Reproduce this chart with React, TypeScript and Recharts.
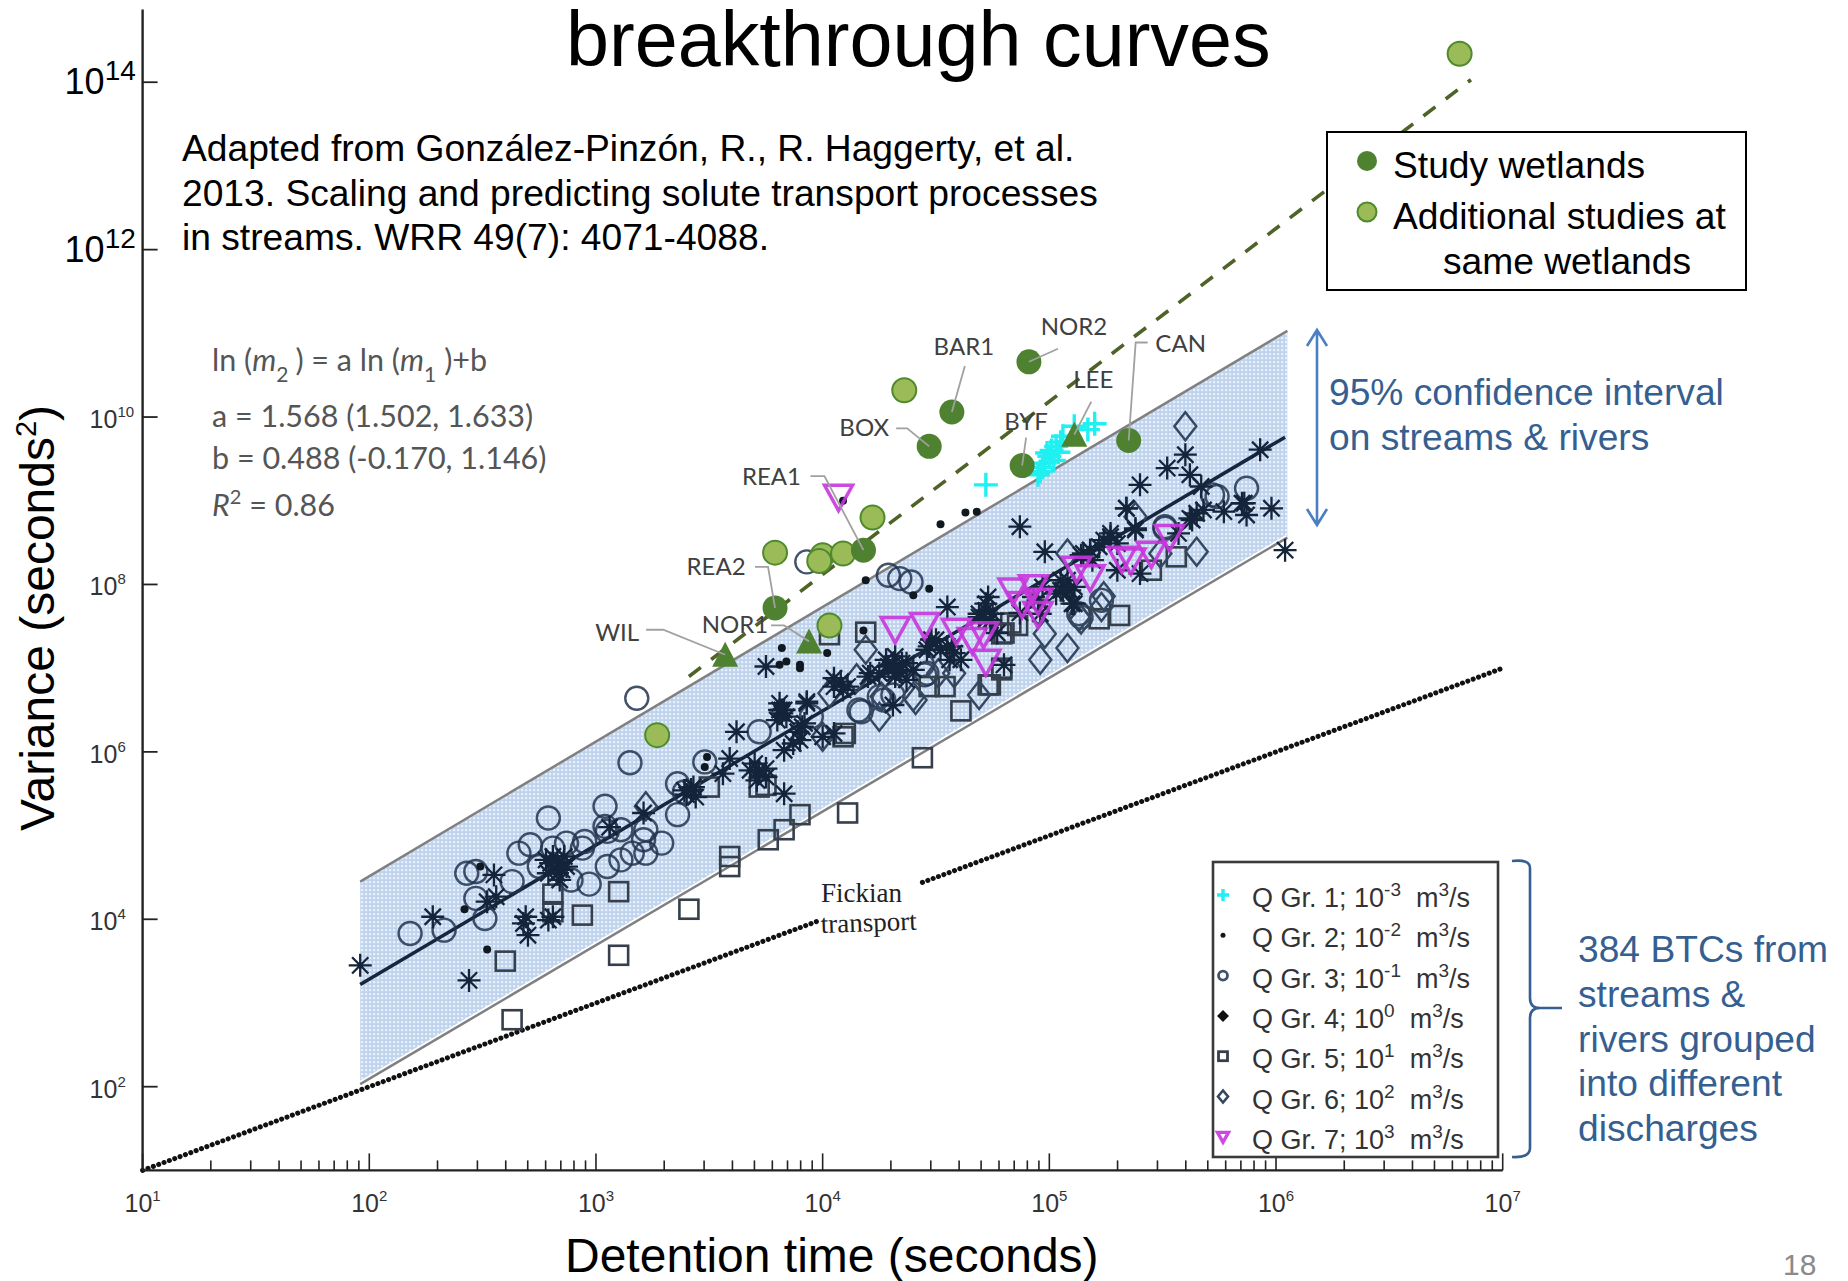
import React from "react";
import { ComposedChart, Area, Line, Scatter, XAxis, YAxis } from "recharts";

// All series values are log10 of the plotted quantity.
type Pt = [number, number];

const X_DECADES = [1, 2, 3, 4, 5, 6, 7];
const Y_DECADES = [2, 4, 6, 8, 10, 12, 14];
const MINOR_STEPS = [0.301, 0.477, 0.602, 0.699, 0.778, 0.845, 0.903, 0.954];

const BAND_X = [1.96, 6.05];
const BAND_LOW = [2.03, 8.56];
const BAND_HIGH = [4.45, 11.03];
const FIT_LINE: Pt[] = [[1.96, 3.22], [6.04, 9.76]];
const WETLAND_TREND: Pt[] = [[3.41, 6.9], [6.86, 14.03]];
const FICKIAN_LOW: Pt[] = [[1, 1], [3.98, 3.98]];
const FICKIAN_HIGH: Pt[] = [[4.44, 4.44], [7, 7]];

const Q1_PLUS: Pt[] = [
  [4.72, 9.19], [4.95, 9.31], [4.96, 9.35], [4.98, 9.45], [4.99, 9.57], [5.0, 9.53], [5.03, 9.65],
  [5.05, 9.7], [5.06, 9.77], [5.11, 9.89], [5.17, 9.85], [5.2, 9.92], [4.97, 9.4], [5.01, 9.6],
  [5.02, 9.48], [5.04, 9.58],
];
const Q2_DOTS: Pt[] = [
  [4.09, 9.0], [4.52, 8.72], [4.63, 8.86], [4.68, 8.87], [4.19, 8.05], [4.47, 7.95], [4.4, 7.87],
  [3.82, 7.24], [4.02, 7.18], [3.9, 7.04], [3.9, 7.0], [3.81, 7.04], [3.84, 7.08], [4.18, 7.45],
  [2.52, 3.64], [2.42, 4.12], [2.49, 4.63], [3.48, 5.82], [3.49, 5.94],
];
const Q3_CIRCLES: Pt[] = [
  [3.18, 6.64], [3.15, 5.87], [2.79, 5.21], [3.04, 5.35], [2.18, 3.83], [2.33, 3.87], [2.47, 4.57],
  [2.43, 4.55], [2.47, 4.25], [2.51, 4.01], [2.63, 4.45], [2.66, 4.79], [2.71, 4.89], [2.81, 4.85],
  [2.87, 4.91], [2.95, 4.93], [3.04, 5.11], [3.11, 5.07], [3.05, 5.05], [2.97, 4.42], [3.05, 4.63],
  [3.11, 4.71], [3.22, 5.07], [3.29, 4.91], [3.22, 4.79], [3.21, 4.95], [3.36, 5.25], [3.36, 5.62],
  [3.39, 5.52], [3.48, 5.88], [3.72, 6.24], [2.89, 4.47], [2.75, 4.63], [2.94, 4.85], [3.16, 4.79],
  [3.93, 8.27], [4.29, 8.11], [4.34, 8.07], [4.39, 8.03], [5.87, 9.15], [5.72, 9.07], [5.51, 8.67],
  [4.16, 6.5], [4.25, 6.66], [3.95, 6.42], [4.46, 6.94], [5.13, 7.65], [5.23, 7.81], [4.17, 6.48],
  [4.44, 7.04], [4.45, 6.92], [4.31, 6.68], [4.27, 6.62], [5.51, 8.69], [5.14, 7.61], [5.74, 9.05],
];
const Q4_STARS: Pt[] = [
  [1.96, 3.45], [2.28, 4.03], [2.44, 3.27], [2.69, 4.03], [2.7, 3.81], [2.68, 3.95], [2.79, 3.99],
  [2.81, 4.03], [2.55, 4.53], [2.56, 4.27], [2.52, 4.21], [2.83, 4.67], [2.81, 4.75], [2.85, 4.59],
  [2.78, 4.71], [2.84, 4.47], [3.06, 5.1], [3.21, 5.27], [3.42, 5.55], [3.4, 5.49], [3.59, 5.92],
  [3.62, 6.24], [3.56, 5.74], [3.7, 5.86], [3.72, 5.78], [3.75, 5.7], [3.83, 5.5], [3.75, 7.02],
  [3.82, 6.46], [3.81, 6.58], [3.83, 6.02], [3.89, 6.24], [3.82, 6.5], [3.93, 6.6], [3.91, 6.3],
  [4.08, 6.84], [4.05, 6.78], [4.09, 6.74], [4.2, 6.9], [4.32, 7.14], [4.29, 7.02], [4.35, 7.06],
  [4.32, 6.94], [4.37, 6.86], [4.48, 7.34], [4.46, 7.22], [4.52, 7.22], [4.55, 7.73], [4.57, 7.26],
  [4.56, 7.1], [4.73, 7.85], [4.72, 7.69], [4.69, 7.61], [4.74, 7.57], [4.95, 7.81], [4.96, 7.65],
  [5.05, 8.05], [5.06, 7.93], [5.03, 7.89], [5.1, 7.77], [5.11, 7.97], [5.15, 8.37], [5.18, 8.41],
  [5.27, 8.61], [5.24, 8.53], [5.3, 8.49], [4.87, 8.69], [4.98, 8.39], [5.34, 8.91], [5.4, 9.19],
  [5.38, 8.67], [5.52, 9.39], [5.6, 9.55], [5.62, 9.31], [5.67, 9.17], [5.65, 8.85], [5.63, 8.77],
  [5.77, 8.87], [5.85, 8.97], [5.87, 8.83], [5.98, 8.91], [5.93, 9.61], [6.04, 8.41], [5.57, 8.61],
  [4.05, 6.88], [4.11, 6.78], [4.31, 7.04], [4.28, 7.1], [4.34, 6.96], [4.37, 7.06], [4.32, 6.9],
  [4.25, 6.94], [4.4, 6.98], [4.5, 7.34], [4.47, 7.26], [4.58, 7.18], [4.55, 7.26], [4.61, 7.1],
  [4.72, 7.77], [4.69, 7.65], [4.75, 7.65], [4.72, 7.58], [4.77, 7.42], [3.93, 6.58], [3.92, 6.34],
  [3.87, 6.1], [4.0, 6.18], [3.83, 6.5], [4.05, 6.22], [4.31, 6.56], [4.21, 6.94], [4.8, 7.04],
  [5.18, 8.41], [5.14, 8.35], [5.22, 8.45], [5.27, 8.57], [5.19, 8.29], [5.08, 8.05], [5.05, 7.93],
  [4.97, 7.97], [4.93, 7.85], [4.87, 7.66], [5.11, 7.77], [5.09, 7.93], [5.3, 8.17], [5.4, 8.13],
  [5.34, 8.91], [5.38, 8.65], [5.62, 8.79], [5.68, 8.89], [5.86, 8.97], [2.8, 4.67], [2.86, 4.75],
  [2.83, 4.55], [2.87, 4.63], [2.79, 4.55], [3.68, 5.78], [3.75, 5.8], [3.71, 5.66], [3.43, 5.58],
  [3.39, 5.54], [3.44, 5.46], [3.81, 6.5], [3.84, 6.42], [3.8, 6.38], [3.9, 6.14],
];
const Q5_SQUARES: Pt[] = [
  [2.63, 2.8], [3.1, 3.57], [3.41, 4.12], [2.6, 3.5], [2.94, 4.05], [3.1, 4.33], [2.81, 4.3],
  [2.81, 4.09], [3.59, 4.63], [3.59, 4.75], [3.76, 4.95], [3.83, 5.07], [3.9, 5.25], [3.5, 5.58],
  [3.72, 5.58], [3.75, 5.6], [4.44, 5.93], [4.11, 5.27], [4.61, 6.49], [5.31, 7.63], [4.19, 7.43],
  [4.03, 7.4], [4.86, 7.51], [5.22, 7.59], [5.45, 8.17], [5.56, 8.33], [4.54, 6.78], [4.47, 6.78],
  [4.79, 7.0], [4.73, 6.8], [4.1, 6.22], [4.79, 7.41], [4.09, 6.18], [4.74, 6.8], [4.83, 7.54],
  [4.8, 7.42], [4.79, 6.98],
];
const Q6_DIAMONDS: Pt[] = [
  [5.6, 9.89], [5.65, 8.39], [5.08, 8.37], [4.98, 7.41], [5.08, 7.24], [4.96, 7.1], [4.69, 6.68],
  [5.23, 7.73], [5.13, 7.61], [4.95, 7.69], [4.19, 7.22], [4.25, 6.42], [4.4, 6.66], [4.51, 6.94],
  [5.49, 8.37], [3.22, 5.35], [5.38, 8.81], [4.41, 6.62], [4.0, 6.18], [4.58, 6.94], [4.26, 6.66],
  [4.15, 6.88], [4.03, 6.7], [5.14, 7.58], [5.24, 7.86],
];
const Q7_TRIANGLES: Pt[] = [
  [4.07, 9.05], [4.32, 7.47], [4.45, 7.52], [4.59, 7.45], [4.71, 7.41], [4.66, 7.34], [4.72, 7.08],
  [4.84, 7.93], [4.93, 7.97], [4.88, 7.77], [4.95, 7.81], [4.95, 7.65], [5.12, 8.19], [5.18, 8.09],
  [5.32, 8.31], [5.36, 8.29], [5.45, 8.37], [5.53, 8.57],
];

const ADDITIONAL_STUDIES: Pt[] = [
  [6.81, 14.34], [4.36, 10.32], [4.22, 8.8], [3.79, 8.38], [4.0, 8.35], [3.985, 8.28], [4.09, 8.37],
  [4.03, 7.51], [3.27, 6.2],
];
const CIRCLE_SITES = ["BAR1", "NOR2", "BOX", "BYF", "CAN", "REA1", "REA2"];
const CIRCLE_SITE_X = [4.57, 4.91, 4.47, 4.88, 5.35, 4.18, 3.79];
const CIRCLE_SITE_Y = [10.06, 10.66, 9.65, 9.42, 9.72, 8.41, 7.72];
const TRIANGLE_SITES = ["LEE", "NOR1", "WIL"];
const TRIANGLE_SITE_X = [5.11, 3.94, 3.57];
const TRIANGLE_SITE_Y = [9.79, 7.32, 7.16];

const LEGEND_ROWS = ["1; 10|-3", "2; 10|-2", "3; 10|-1", "4; 10|0", "5; 10|1", "6; 10|2", "7; 10|3"];
const RIVER_NOTE = ["384 BTCs from", "streams &", "rivers grouped", "into different", "discharges"];
const CITATION = [
  "Adapted from González-Pinzón, R., R. Haggerty, et al.",
  "2013. Scaling and predicting solute transport processes",
  "in streams. WRR 49(7): 4071-4088.",
];

// where each site's name and leader sit relative to its marker
const SITE_LABELS: Record<string, { dx: number; dy: number; leader: Pt[] }> = {
  BAR1: { dx: 12, dy: -65, leader: [[13, -46]] },
  NOR2: { dx: 45, dy: -35, leader: [[29, -13]] },
  BOX: { dx: -65, dy: -18, leader: [[-33, -18], [-22, -18]] },
  BYF: { dx: 4, dy: -44, leader: [[4, -28]] },
  CAN: { dx: 52, dy: -96, leader: [[19, -98], [7, -98]] },
  REA1: { dx: -92, dy: -73, leader: [[-53, -74], [-39, -74]] },
  REA2: { dx: -59, dy: -41, leader: [[-20, -41], [-7, -41]] },
  LEE: { dx: 19, dy: -55, leader: [[17, -33]] },
  NOR1: { dx: -74, dy: -16, leader: [[-38, -16], [-25, -16]] },
  WIL: { dx: -108, dy: -22, leader: [[-79, -25], [-62, -25]] },
};

const NAVY = "#22344d";
const DARK_GREEN = "#4e8130";
const LIGHT_GREEN = "#9bbb59";
const NOTE_BLUE = "#365f91";
const SANS = "'Liberation Sans', Arial, sans-serif";
const CALIBRI_LIKE = "Lato, 'Noto Sans', sans-serif";

const rows = (pts: Pt[]) => pts.map(([x, y]) => ({ x, y }));
const siteRows = (names: string[], xs: number[], ys: number[]) =>
  names.map((name, i) => ({ name, x: xs[i], y: ys[i] }));
const bandRows = BAND_X.map((x, i) => ({ x, range: [BAND_LOW[i], BAND_HIGH[i]] }));

const xTicks = X_DECADES.flatMap((d) => (d < 7 ? [d, ...MINOR_STEPS.map((s) => d + s)] : [d]));

// ── markers ──────────────────────────────────────────────
function CircleMark({ cx, cy, r = 11.5, w = 2.4 }: any) {
  return <circle cx={cx} cy={cy} r={r} fill="none" stroke={NAVY} strokeWidth={w} strokeOpacity={0.85} />;
}
function DotMark({ cx, cy, r = 4 }: any) {
  return <circle cx={cx} cy={cy} r={r} fill="#101820" />;
}
function StarMark({ cx, cy, r = 11.5 }: any) {
  const d = r * 0.707;
  return (
    <path
      d={`M${cx - r} ${cy}H${cx + r}M${cx} ${cy - r}V${cy + r}M${cx - d} ${cy - d}L${cx + d} ${cy + d}M${cx - d} ${cy + d}L${cx + d} ${cy - d}`}
      stroke="#14243a"
      strokeWidth={2.3}
      fill="none"
    />
  );
}
function SquareMark({ cx, cy, s = 9.5, w = 2.6 }: any) {
  return <rect x={cx - s} y={cy - s} width={s * 2} height={s * 2} fill="none" stroke="#363f4c" strokeWidth={w} />;
}
function DiamondMark({ cx, cy, a = 11, b = 14, w = 2.4 }: any) {
  return (
    <path d={`M${cx} ${cy - b}L${cx + a} ${cy}L${cx} ${cy + b}L${cx - a} ${cy}Z`} fill="none" stroke="#34475f" strokeWidth={w} />
  );
}
function DownTriangleMark({ cx, cy, a = 14, w = 3.5 }: any) {
  return (
    <path
      d={`M${cx - a} ${cy - a * 0.8}H${cx + a}L${cx} ${cy + a}Z`}
      fill="none"
      stroke="#c636dc"
      strokeWidth={w}
      strokeOpacity={0.9}
    />
  );
}
function PlusMark({ cx, cy, r = 12 }: any) {
  return <path d={`M${cx - r} ${cy}H${cx + r}M${cx} ${cy - r}V${cy + r}`} stroke="#1ff0f2" strokeWidth={3.4} fill="none" />;
}

function SiteLabel({ cx, cy, name }: any) {
  const label = SITE_LABELS[name];
  if (!label) return null;
  const path = [...label.leader, [0, 0]].map(([x, y], i) => `${i ? "L" : "M"}${cx + x} ${cy + y}`).join("");
  return (
    <g>
      <path d={path} fill="none" stroke="#a0a0a0" strokeWidth={1.8} />
      <text x={cx + label.dx} y={cy + label.dy + 8} textAnchor="middle" fontFamily={CALIBRI_LIKE} fontSize={24} fill="#404040">
        {name}
      </text>
    </g>
  );
}
function CircleSite(props: any) {
  const name = props.payload?.name ?? props.name;
  return (
    <g>
      <circle cx={props.cx} cy={props.cy} r={12.5} fill={DARK_GREEN} />
      <SiteLabel cx={props.cx} cy={props.cy} name={name} />
    </g>
  );
}
function TriangleSite(props: any) {
  const { cx, cy } = props;
  const name = props.payload?.name ?? props.name;
  return (
    <g>
      <path d={`M${cx} ${cy - 13}L${cx + 13} ${cy + 12}H${cx - 13}Z`} fill={DARK_GREEN} />
      <SiteLabel cx={cx} cy={cy} name={name} />
    </g>
  );
}
function LightSite({ cx, cy }: any) {
  return <circle cx={cx} cy={cy} r={12} fill={LIGHT_GREEN} stroke="#4f8a2b" strokeWidth={2} />;
}

// ── axis ticks ───────────────────────────────────────────
function XTick({ x, y, payload }: any) {
  const major = Number.isInteger(payload.value);
  return (
    <g>
      <line x1={x} x2={x} y1={y} y2={y - (major ? 17 : 10)} stroke="#222" strokeWidth={1.6} />
      {major && (
        <text x={x} y={y + 42} textAnchor="middle" fontFamily={SANS} fontSize={25} fill="#333">
          10
          <tspan dy={-11} fontSize={15}>
            {payload.value}
          </tspan>
        </text>
      )}
    </g>
  );
}
function YTick({ x, y, payload }: any) {
  const big = payload.value >= 12;
  return (
    <g>
      <line x1={x} x2={x + 15} y1={y} y2={y} stroke="#222" strokeWidth={1.8} />
      <text x={x - (big ? 78 : 53)} y={y + (big ? 12 : 11)} fontFamily={SANS} fontSize={big ? 36 : 25} fill={big ? "#000" : "#333"}>
        10
        <tspan dy={big ? -14 : -11} fontSize={big ? 28 : 15}>
          {payload.value}
        </tspan>
      </text>
    </g>
  );
}

const LEGEND_SYMBOLS = [
  (cy: number) => <PlusMark cx={1223} cy={cy} r={6} />,
  (cy: number) => <DotMark cx={1223} cy={cy} r={2.5} />,
  (cy: number) => <CircleMark cx={1223} cy={cy} r={4.5} w={2.8} />,
  (cy: number) => <path d={`M1223 ${cy - 6}L1229 ${cy}L1223 ${cy + 6}L1217 ${cy}Z`} fill="#111" />,
  (cy: number) => <SquareMark cx={1223} cy={cy} s={4.5} w={2.8} />,
  (cy: number) => <DiamondMark cx={1223} cy={cy} a={5} b={6} w={2.6} />,
  (cy: number) => <DownTriangleMark cx={1223} cy={cy} a={5.5} w={3.4} />,
];

// ── everything that sits over the plot ───────────────────
function Overlay() {
  return (
    <svg width={1848} height={1281} style={{ position: "absolute", left: 0, top: 0 }} fontFamily={SANS}>
      <text x={566} y={66} fontSize={77.3} fill="#000">
        breakthrough curves
      </text>
      {CITATION.map((line, i) => (
        <text key={line} x={182} y={161 + i * 44.5} fontSize={37.2} fill="#000">
          {line}
        </text>
      ))}

      <g fontFamily={CALIBRI_LIKE} fontSize={30.5} fill="#555">
        <text x={212} y={371}>
          ln (<tspan fontStyle="italic">m</tspan>
          <tspan dy={11} fontSize={21}>2</tspan>
          <tspan dy={-11} dx={7}>) = a ln (</tspan>
          <tspan fontStyle="italic">m</tspan>
          <tspan dy={11} fontSize={21}>1</tspan>
          <tspan dy={-11} dx={8}>)+b</tspan>
        </text>
        <text x={212} y={427}>a = 1.568 (1.502, 1.633)</text>
        <text x={212} y={469}>b = 0.488 (-0.170, 1.146)</text>
        <text x={212} y={516}>
          <tspan fontStyle="italic">R</tspan>
          <tspan dy={-12} fontSize={20}>2</tspan>
          <tspan dy={12}> = 0.86</tspan>
        </text>
      </g>

      <text transform="translate(54 831) rotate(-90)" fontSize={48} fill="#000">
        Variance (seconds
        <tspan dy={-18} fontSize={29}>2</tspan>
        <tspan dy={18}>)</tspan>
      </text>
      <text x={565} y={1272} fontSize={48} fill="#000">
        Detention time (seconds)
      </text>

      <g fontFamily="'Liberation Serif', serif" fontSize={27} fill="#222">
        <text x={821} y={902}>Fickian</text>
        <text x={821} y={933} transform="rotate(-2 821 933)">transport</text>
      </g>

      {/* wetland key */}
      <rect x={1327} y={132} width={419} height={158} fill="#fff" stroke="#000" strokeWidth={2} />
      <circle cx={1367} cy={161} r={10} fill={DARK_GREEN} />
      <circle cx={1367} cy={212} r={9.5} fill={LIGHT_GREEN} stroke="#4f8a2b" strokeWidth={2} />
      <g fontSize={37.2} fill="#000">
        <text x={1393} y={178}>Study wetlands</text>
        <text x={1393} y={229}>Additional studies at</text>
        <text x={1443} y={274}>same wetlands</text>
      </g>

      {/* confidence interval note */}
      <path
        d="M1317 330V525M1307 346L1317 330L1327 346M1307 509L1317 525L1327 509"
        fill="none"
        stroke="#4a7fc1"
        strokeWidth={2.6}
      />
      <g fontSize={37.2} fill={NOTE_BLUE}>
        <text x={1329} y={405}>95% confidence interval</text>
        <text x={1329} y={450}>on streams &amp; rivers</text>
      </g>

      {/* discharge legend */}
      <rect x={1213} y={862} width={285} height={295} fill="#fff" stroke="#3a3a3a" strokeWidth={2.6} />
      {LEGEND_ROWS.map((row, i) => {
        const [head, exp] = row.split("|");
        const y = 907 + i * 40.3;
        return (
          <g key={row}>
            {LEGEND_SYMBOLS[i](y - 12)}
            <text x={1252} y={y} fontSize={27} fill="#333" xmlSpace="preserve">
              Q Gr. {head}
              <tspan dy={-11} fontSize={19}>{exp}</tspan>
              <tspan dy={11}>{"  "}m</tspan>
              <tspan dy={-11} fontSize={19}>3</tspan>
              <tspan dy={11}>/s</tspan>
            </text>
          </g>
        );
      })}

      <path
        d="M1512 861Q1530 859 1530 868V998Q1530 1008 1540 1008H1562M1540 1008Q1530 1008 1530 1018V1148Q1530 1158 1512 1157"
        fill="none"
        stroke={NOTE_BLUE}
        strokeWidth={2.6}
      />
      {RIVER_NOTE.map((line, i) => (
        <text key={line} x={1578} y={962 + i * 44.8} fontSize={37.2} fill={NOTE_BLUE}>
          {line}
        </text>
      ))}
      <text x={1783} y={1275} fontSize={30} fill="#8a8a8a">18</text>
    </svg>
  );
}

export default function App() {
  return (
    <div style={{ position: "absolute", left: 0, top: 0, width: 1848, height: 1281, background: "#fff", overflow: "hidden" }}>
      <ComposedChart
        width={1848}
        height={1281}
        data={bandRows}
        margin={{ top: 9.4, right: 345.3, bottom: 109.6, left: 141.6 }}
      >
        <defs>
          <pattern id="bandDots" width={4} height={4} patternUnits="userSpaceOnUse">
            <rect width={4} height={4} fill="#bfd3ed" />
            <rect x={1} y={1} width={2.2} height={2.2} fill="#e9f0fa" />
          </pattern>
        </defs>
        <XAxis
          dataKey="x"
          type="number"
          domain={[1, 7]}
          ticks={xTicks}
          interval={0}
          height={1}
          tickSize={0}
          tickMargin={0}
          tickLine={false}
          tick={<XTick />}
          axisLine={{ stroke: "#222", strokeWidth: 2.4 }}
        />
        <YAxis
          dataKey="y"
          type="number"
          domain={[1, 14.87]}
          ticks={Y_DECADES}
          interval={0}
          width={1}
          tickSize={0}
          tickMargin={0}
          tickLine={false}
          tick={<YTick />}
          axisLine={{ stroke: "#222", strokeWidth: 2.4 }}
        />

        <Area data={bandRows} dataKey="range" type="linear" stroke="none" fill="url(#bandDots)" fillOpacity={1} isAnimationActive={false} />
        <Line data={bandRows.map((r) => ({ x: r.x, y: r.range[1] }))} dataKey="y" stroke="#808080" strokeWidth={2.5} dot={false} isAnimationActive={false} />
        <Line data={bandRows.map((r) => ({ x: r.x, y: r.range[0] }))} dataKey="y" stroke="#fff" strokeWidth={6} dot={false} isAnimationActive={false} />
        <Line data={bandRows.map((r) => ({ x: r.x, y: r.range[0] }))} dataKey="y" stroke="#808080" strokeWidth={2.5} dot={false} isAnimationActive={false} />

        <Line data={rows(FICKIAN_LOW)} dataKey="y" stroke="#111" strokeWidth={5} strokeDasharray="0.1 5.6" strokeLinecap="round" dot={false} isAnimationActive={false} />
        <Line data={rows(FICKIAN_HIGH)} dataKey="y" stroke="#111" strokeWidth={5} strokeDasharray="0.1 5.6" strokeLinecap="round" dot={false} isAnimationActive={false} />

        <Scatter data={rows(Q3_CIRCLES)} shape={<CircleMark />} isAnimationActive={false} />
        <Scatter data={rows(Q5_SQUARES)} shape={<SquareMark />} isAnimationActive={false} />
        <Scatter data={rows(Q6_DIAMONDS)} shape={<DiamondMark />} isAnimationActive={false} />
        <Scatter data={rows(Q4_STARS)} shape={<StarMark />} isAnimationActive={false} />
        <Line data={rows(FIT_LINE)} dataKey="y" stroke="#15263d" strokeWidth={3.5} dot={false} isAnimationActive={false} />
        <Scatter data={rows(Q2_DOTS)} shape={<DotMark />} isAnimationActive={false} />
        <Scatter data={rows(Q1_PLUS)} shape={<PlusMark />} isAnimationActive={false} />
        <Scatter data={rows(Q7_TRIANGLES)} shape={<DownTriangleMark />} isAnimationActive={false} />

        <Line data={rows(WETLAND_TREND)} dataKey="y" stroke="#4f6228" strokeWidth={3.6} strokeDasharray="15 13" dot={false} isAnimationActive={false} />
        <Scatter data={rows(ADDITIONAL_STUDIES)} shape={<LightSite />} isAnimationActive={false} />
        <Scatter data={siteRows(CIRCLE_SITES, CIRCLE_SITE_X, CIRCLE_SITE_Y)} shape={<CircleSite />} isAnimationActive={false} />
        <Scatter data={siteRows(TRIANGLE_SITES, TRIANGLE_SITE_X, TRIANGLE_SITE_Y)} shape={<TriangleSite />} isAnimationActive={false} />
      </ComposedChart>
      <Overlay />
    </div>
  );
}
